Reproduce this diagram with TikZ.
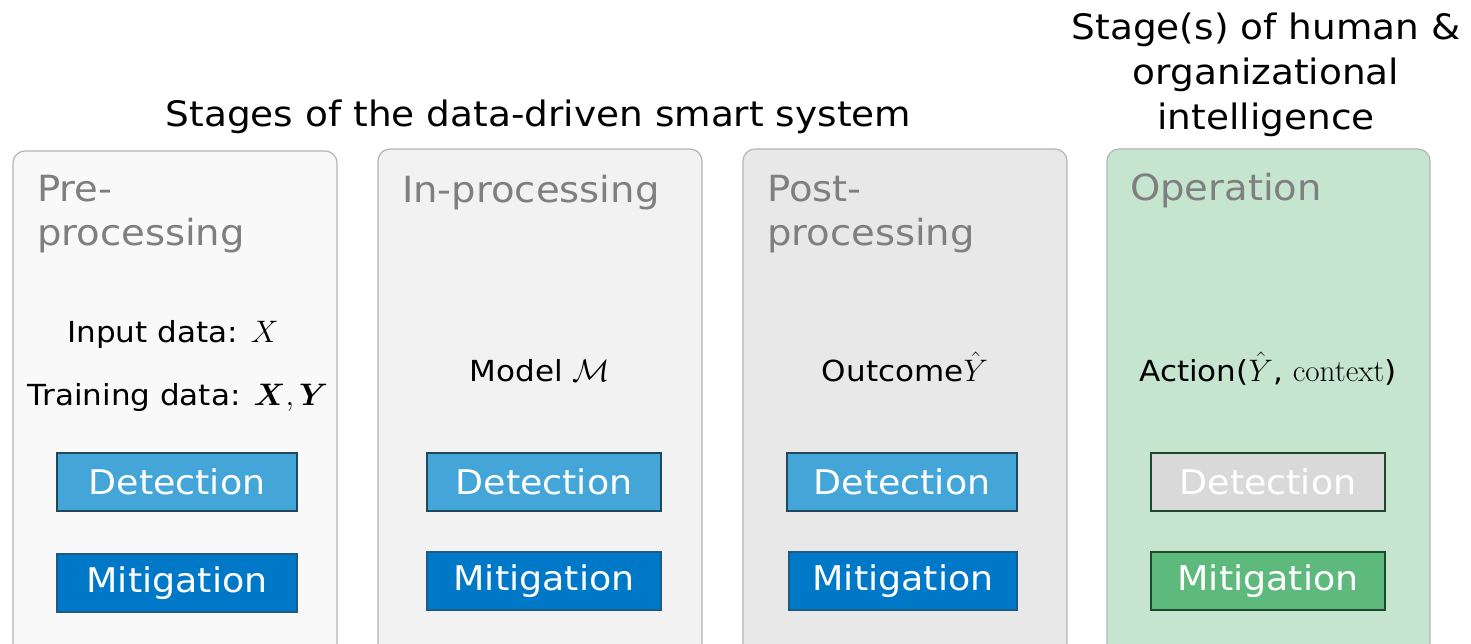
\documentclass[tikz,border=0pt]{standalone}
\usepackage{amsmath,bm,graphicx}
\usepackage[no-math]{fontspec}
\setmainfont[FakeStretch=1.07]{DejaVu Sans}
\newcommand\mymath[1]{\scalebox{1.25}{$#1$}}
\definecolor{bfA}{HTML}{F9F9F9}
\definecolor{bfB}{HTML}{F2F2F2}
\definecolor{bfC}{HTML}{E8E8E8}
\definecolor{bfD}{HTML}{C6E5CF}
\definecolor{bline}{HTML}{B4B4B4}
\definecolor{headgray}{HTML}{7F7F7F}
\definecolor{detfill}{HTML}{44A6D8}
\definecolor{detline}{HTML}{1E4A5C}
\definecolor{mitfill}{HTML}{0078C8}
\definecolor{mitline}{HTML}{1E5A86}
\definecolor{opdet}{HTML}{D9D9D9}
\definecolor{opmit}{HTML}{5DB97C}
\definecolor{opline}{HTML}{1F4A2C}
\tikzset{
  stagebox/.style={draw=bline, line width=1.2pt, rounded corners=12pt},
  titletext/.style={font=\fontsize{35}{45}\selectfont, align=center, inner sep=0pt},
  headtext/.style={font=\fontsize{36}{44}\selectfont, text=headgray, align=left, anchor=north west, inner sep=0pt},
  bodytext/.style={font=\fontsize{29}{34}\selectfont, inner sep=0pt, anchor=base},
  btn/.style={minimum height=58pt, inner sep=0pt, line width=2.2pt, text=white, font=\fontsize{34}{40}\selectfont},
  detbtn/.style={btn, fill=detfill, draw=detline},
  mitbtn/.style={btn, fill=mitfill, draw=mitline},
  opdetbtn/.style={btn, fill=opdet, draw=opline},
  opmitbtn/.style={btn, fill=opmit, draw=opline},
}
\begin{document}
\begin{tikzpicture}[x=1pt,y=-1pt]
\useasboundingbox (0,0) rectangle (1471,644);
\clip (0,0) rectangle (1471,644);
\fill[white] (0,0) rectangle (1471,644);
% stage boxes
\draw[stagebox, fill=bfA] (13,151) rectangle (337,660);
\draw[stagebox, fill=bfB] (378,149) rectangle (702,660);
\draw[stagebox, fill=bfC] (743,149) rectangle (1067,660);
\draw[stagebox, fill=bfD] (1107,149) rectangle (1430,660);
% titles
\node[titletext] (t1) at (538.5,117) {Stages of the data-driven smart system};
\node[titletext] (t2) at (1266,75) {Stage(s) of human \&\\organizational\\intelligence};
% headings
\node[headtext] (h1) at (37,175) {Pre-\\processing};
\node[headtext] (h2) at (402,175) {In-processing};
\node[headtext] (h3) at (767,175) {Post-\\processing};
\node[headtext] (h4) at (1130,173) {Operation};
% body texts
\node[bodytext] (b1a) at (173,342) {Input data: \mymath{X}};
\node[bodytext] (b1b) at (178,405) {Training data: \mymath{\bm{X},\bm{Y}}};
\node[bodytext] (b2) at (540,381) {Model \mymath{\mathcal{M}}};
\node[bodytext] (b3) at (905,381) {Outcome\mymath{\hat{Y}}};
\node[bodytext] (b4) at (1268,381) {Action(\mymath{\hat{Y}}, \mymath{\mathrm{context}})};
% buttons
\node[detbtn, minimum width=240pt] (d1) at (177,482) {Detection};
\node[mitbtn, minimum width=240pt] (m1) at (177,583) {Mitigation};
\node[detbtn, minimum width=234pt] (d2) at (544,482) {Detection};
\node[mitbtn, minimum width=234pt] (m2) at (544,581) {Mitigation};
\node[detbtn, minimum width=230pt] (d3) at (902,482) {Detection};
\node[mitbtn, minimum width=228pt] (m3) at (903,581) {Mitigation};
\node[opdetbtn, minimum width=234pt] (d4) at (1268,482) {Detection};
\node[opmitbtn, minimum width=234pt] (m4) at (1268,581) {Mitigation};
\end{tikzpicture}
\end{document}
